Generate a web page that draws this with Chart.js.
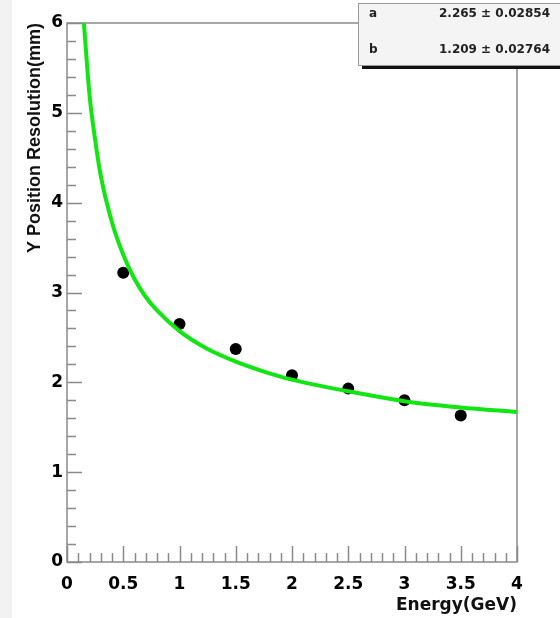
<!DOCTYPE html>
<html>
<head>
<meta charset="utf-8">
<script src="https://cdn.jsdelivr.net/npm/chart.js@4.4.1/dist/chart.umd.min.js"></script>
<style>
  html, body { margin: 0; padding: 0; background: #fff; }
  #wrap { width: 560px; height: 618px; }
</style>
</head>
<body>
<div id="wrap"><canvas id="chart" width="560" height="618"></canvas></div>
<script>
// measured points
const energies = [0.5, 1, 1.5, 2, 2.5, 3, 3.5];
const resolution = [3.22, 2.65, 2.37, 2.08, 1.93, 1.8, 1.63];

// fit curve
const fitEnergy = [0.15, 0.2, 0.25, 0.3, 0.4, 0.5, 0.6, 0.7, 0.8, 1.0, 1.25, 1.5, 1.75, 2.0, 2.5, 3.0, 3.5, 4.0];
const fitValue = [6.0, 5.2, 4.7, 4.3, 3.78, 3.42, 3.15, 2.95, 2.8, 2.57, 2.37, 2.23, 2.12, 2.03, 1.9, 1.79, 1.72, 1.67];

const xTicks = [0, 0.5, 1, 1.5, 2, 2.5, 3, 3.5, 4];
const xTickLabels = ["0", "0.5", "1", "1.5", "2", "2.5", "3", "3.5", "4"];
const yTicks = [0, 1, 2, 3, 4, 5, 6];
const yTickLabels = ["0", "1", "2", "3", "4", "5", "6"];

const statNames = ["a", "b"];
const statValues = ["2.265 \u00b1 0.02854", "1.209 \u00b1 0.02764"];

const AXIS_GRAY = "#8a8a8a";
const tickFont = { family: "'DejaVu Sans'", size: 17, weight: "bold" };

const toXY = (xs, ys) => xs.map((v, i) => ({ x: v, y: ys[i] }));

// ROOT style frame: inward ticks, majors and minors
const rootFrame = {
  id: "rootFrame",
  beforeDraw(chart) {
    const { ctx } = chart;
    ctx.save();
    ctx.fillStyle = "#f2f2f2";
    ctx.fillRect(0, 0, 12, chart.height);
    ctx.restore();
  },
  beforeDatasetsDraw(chart) {
    const { ctx, chartArea: a, scales } = chart;
    ctx.save();
    ctx.strokeStyle = AXIS_GRAY;
    ctx.lineWidth = 1.5;
    ctx.strokeRect(a.left, a.top, a.right - a.left, a.bottom - a.top);

    ctx.beginPath();
    for (let i = 0; i <= 40; i++) {
      const px = Math.round(scales.x.getPixelForValue(i / 10)) + 0.5;
      const len = i % 5 === 0 ? 16 : 9;
      ctx.moveTo(px, a.bottom);
      ctx.lineTo(px, a.bottom - len);
    }
    for (let i = 0; i <= 30; i++) {
      const py = Math.round(scales.y.getPixelForValue(i / 5)) + 0.5;
      const len = i % 5 === 0 ? 15 : 9;
      ctx.moveTo(a.left, py);
      ctx.lineTo(a.left + len, py);
    }
    ctx.stroke();
    ctx.restore();
  },
  afterDraw(chart) {
    const { ctx } = chart;
    ctx.save();
    ctx.fillStyle = "#111";
    ctx.fillRect(362, 66, 200, 3);
    ctx.fillStyle = "#f4f4f4";
    ctx.fillRect(358, 3, 204, 63);
    ctx.strokeStyle = "#9a9a9a";
    ctx.lineWidth = 1;
    ctx.strokeRect(358.5, 3.5, 210, 62);

    ctx.font = "bold 12px 'DejaVu Sans'";
    ctx.fillStyle = "#222";
    ctx.textBaseline = "middle";
    const rows = [14, 50];
    statNames.forEach((name, i) => {
      ctx.textAlign = "left";
      ctx.fillText(name, 369, rows[i]);
      ctx.textAlign = "right";
      ctx.fillText(statValues[i], 550, rows[i]);
    });
    ctx.restore();
  },
};

new Chart(document.querySelector("#chart"), {
  type: "scatter",
  data: {
    datasets: [
      {
        label: "fit",
        data: toXY(fitEnergy, fitValue),
        showLine: true,
        borderColor: "#12e612",
        borderWidth: 4,
        pointRadius: 0,
        cubicInterpolationMode: "monotone",
      },
      {
        label: "data",
        data: toXY(energies, resolution),
        backgroundColor: "#000",
        borderColor: "#000",
        pointRadius: 6,
        pointBorderWidth: 0,
      },
    ],
  },
  options: {
    responsive: false,
    animation: false,
    devicePixelRatio: 1,
    layout: { padding: { left: 0, top: 23, right: 43, bottom: 0 } },
    plugins: { legend: { display: false }, tooltip: { enabled: false } },
    scales: {
      x: {
        type: "linear",
        min: 0,
        max: 4,
        afterFit: (s) => { s.height = 56; },
        afterBuildTicks: (s) => { s.ticks = xTicks.map((v) => ({ value: v })); },
        grid: { display: false, drawTicks: false },
        border: { display: false },
        ticks: {
          color: "#000",
          font: tickFont,
          padding: 12,
          maxRotation: 0,
          autoSkip: false,
          callback: (v, i) => xTickLabels[i],
        },
        title: {
          display: true,
          text: "Energy(GeV)",
          align: "end",
          color: "#111",
          font: { family: "'DejaVu Sans'", size: 17, weight: "bold" },
          padding: { top: 0, bottom: 2 },
        },
      },
      y: {
        type: "linear",
        min: 0,
        max: 6,
        afterFit: (s) => { s.width = 67; },
        afterBuildTicks: (s) => { s.ticks = yTicks.map((v) => ({ value: v })); },
        grid: { display: false, drawTicks: false },
        border: { display: false },
        ticks: {
          color: "#000",
          font: tickFont,
          padding: 4,
          autoSkip: false,
          callback: (v, i) => yTickLabels[i],
        },
        title: {
          display: true,
          text: "Y Position Resolution(mm)",
          align: "end",
          color: "#111",
          font: { family: "'Liberation Sans'", size: 18, weight: "bold" },
          padding: { top: 24, bottom: 0 },
        },
      },
    },
  },
  plugins: [rootFrame],
});
</script>
</body>
</html>
